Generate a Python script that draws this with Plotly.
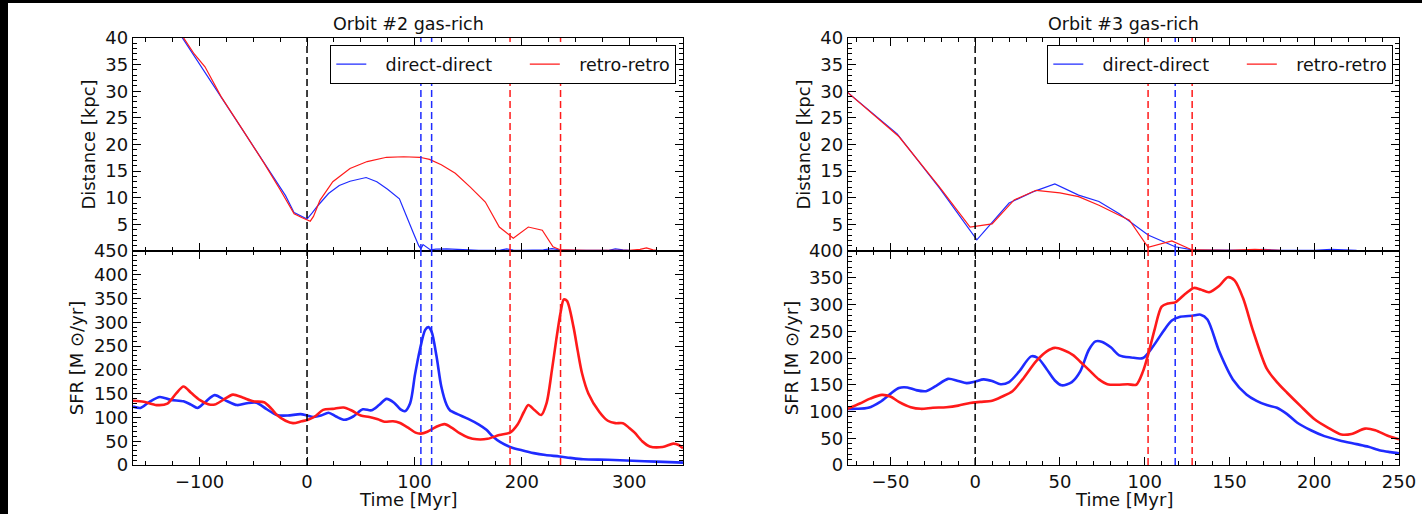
import plotly.graph_objects as go

# ---------------- data ----------------
# Orbit #2 : distance [kpc]
o2_dist_dd_t = [-162, -140, -120, -100, -80, -60, -40, -20, -12, -5, 0, 5, 10, 20, 30, 40, 55, 65, 75, 86, 92, 99, 104, 106, 108, 111, 115, 120,
                130, 140, 160, 180, 186, 192, 200, 220, 228, 236, 250, 280, 287, 294, 300]
o2_dist_dd = [54.2, 47.4, 41.2, 35.1, 28.9, 22.8, 16.6, 10.4, 7.2, 6.5, 6.0, 7.2, 8.5, 10.8, 12.3, 13.1, 13.8, 13.0, 11.6, 9.8, 7.0, 3.4, 1.0, 0.4, 1.2, 0.8, 0.2, 0.35,
              0.4, 0.3, 0.1, 0.15, 0.4, 0.15, 0.1, 0.2, 0.45, 0.2, 0.1, 0.1, 0.4, 0.2, 0.1]
o2_dist_rr_t = [-162, -140, -120, -105, -95, -80, -60, -40, -25, -12, -5, 0, 3, 6, 12, 24, 40, 56, 74, 90, 105, 114, 125, 138, 152, 166, 179, 192,
                206, 219, 229, 236, 260, 300, 310, 316, 322, 326]
o2_dist_rr = [54.4, 47.6, 41.5, 37.0, 34.6, 29.0, 22.8, 16.5, 11.5, 7.0, 6.3, 5.9, 5.6, 6.5, 9.5, 13.0, 15.5, 16.8, 17.6, 17.7, 17.6, 17.2, 16.2, 14.6,
              12.0, 9.2, 4.5, 2.4, 4.5, 3.9, 0.8, 0.2, 0.1, 0.1, 0.3, 0.6, 0.2, 0.1]

# Orbit #2 : SFR [Msun/yr]
o2_sfr_dd_t = [-162, -155, -147, -137, -127, -115, -108, -102, -95, -86, -76, -65, -56, -47, -38, -28, -18, -6, 0, 6, 13, 20, 27, 35, 43, 52, 60,
               67, 74, 81, 87, 91, 96, 100.5, 105, 110, 113, 116, 120.6, 125, 130, 133, 140, 150, 160, 167, 173, 180, 189, 200, 211, 222,
               235, 245, 257, 280, 303, 325, 350]
o2_sfr_dd = [123, 120, 132, 143, 137, 134, 127, 120, 132, 147, 136, 126, 130, 131, 118, 105, 104, 107, 104, 101, 104, 110, 102, 95, 102, 117, 115,
             126, 139, 131, 117, 113, 130, 190, 242, 284, 290, 280, 228, 165, 126, 115, 107, 97, 85, 74, 60, 48, 38, 31, 25, 21,
             18, 15, 12, 11, 9, 7, 5]
o2_sfr_rr_t = [-162, -152, -140, -130, -122, -115, -108, -100, -92, -86, -78, -69, -60, -50, -40, -33, -28, -20, -13, -5, 1, 8, 15, 24, 34, 42,
               50, 58, 66, 72, 80, 86, 95, 101, 106, 112, 120, 128, 135, 142, 150, 158, 168, 179, 189, 196, 202, 206, 212, 218, 223,
               228, 232, 236, 239, 242, 248, 252, 256, 262, 272, 280, 287, 294, 300, 305, 312, 319, 331, 341, 346, 350]
o2_sfr_rr = [135, 133, 126, 129, 150, 165, 152, 137, 128, 127, 137, 148, 142, 134, 132, 118, 105, 93, 88, 92, 95, 103, 116, 118, 121, 114,
             104, 101, 96, 91, 92, 89, 77, 68, 66, 70, 80, 86, 78, 67, 58, 54, 55, 63, 68, 85, 112, 126, 115, 105, 130,
             200, 263, 320, 348, 345, 291, 240, 193, 150, 112, 93, 88, 88, 78, 68, 50, 39, 38, 45, 42, 35]

# Orbit #3 : distance [kpc]
o3_dist_dd_t = [-76, -46, -21, 1, 20, 34, 47, 61, 73, 85, 102, 118, 128, 140, 160, 170, 180, 200, 210, 225]
o3_dist_dd = [30.0, 22.0, 11.8, 2.1, 9.0, 11.1, 12.6, 10.5, 9.3, 7.0, 3.0, 0.8, 0.2, 0.15, 0.1, 0.3, 0.1, 0.1, 0.3, 0.1]
o3_dist_rr_t = [-76, -45, -21, -3, 10, 23, 36, 50, 61, 73, 91, 102, 116, 128, 150, 165, 172, 180]
o3_dist_rr = [30.0, 21.5, 12.0, 4.5, 5.1, 9.6, 11.4, 10.9, 10.2, 8.6, 5.8, 0.7, 1.9, 0.2, 0.1, 0.3, 0.2, 0.1]

# Orbit #3 : SFR [Msun/yr]
o3_sfr_dd_t = [-76, -70, -63, -56, -50, -45, -40, -35, -29, -23, -16, -10, -5, 0, 5, 10, 15, 20, 26, 33, 37, 42, 47, 51, 57, 62, 67, 71,
               75, 80, 85, 92, 99, 105, 111, 116, 121, 128, 133, 137, 144, 152, 160, 166, 172, 178, 184, 190, 198, 206, 215,
               225, 232, 239, 245, 250]
o3_sfr_dd = [105, 105, 107, 118, 133, 144, 145, 140, 138, 148, 161, 157, 153, 156, 160, 157, 151, 155, 175, 203, 200, 180, 158, 149, 155, 175, 215, 231,
             230, 220, 205, 201, 200, 222, 250, 270, 277, 279, 281, 272, 212, 160, 132, 120, 112, 107, 95, 79, 65, 54, 46,
             39, 34, 27, 24, 22]
o3_sfr_rr_t = [-76, -68, -62, -55, -50, -45, -38, -32, -25, -17, -10, -3, 3, 10, 16, 22, 28, 36, 42, 47, 52, 58, 62, 68, 73, 78, 84, 90,
               95, 99, 102, 106, 110, 114, 118, 124, 129, 133, 138, 144, 149, 153, 158, 164, 172, 178, 184, 192, 200, 208, 216,
               222, 230, 236, 243, 250]
o3_sfr_rr = [104, 115, 124, 131, 128, 118, 108, 105, 107, 108, 111, 116, 118, 120, 128, 138, 160, 194, 212, 219, 215, 205, 193, 175, 160, 151, 150, 151,
             150, 175, 206, 255, 296, 302, 304, 320, 331, 328, 323, 335, 351, 345, 312, 250, 180, 155, 135, 110, 86, 70, 57,
             58, 68, 65, 55, 48]

# vertical markers [Myr]
o2_lines_dd = [106, 116]
o2_lines_rr = [189, 236]
o3_lines_dd = [118]
o3_lines_rr = [102, 128]

# distance-panel tick labels (the 0 is hidden under the SFR panel's top label)
dist_tickvals = [0, 5, 10, 15, 20, 25, 30, 35, 40]
dist_ticktext = ["", "5", "10", "15", "20", "25", "30", "35", "40"]

BLUE = "#1f2bff"
RED = "#ff1a1a"
FONT = "DejaVu Sans"
TXT = "#111"
W, H = 1422, 514

fig = go.Figure()

def add(x, y, xa, ya, color, width, name=None, legend=None, spline=False):
    fig.add_trace(go.Scatter(
        x=x, y=y, xaxis=xa, yaxis=ya, mode="lines",
        line=dict(color=color, width=width, shape="spline" if spline else "linear", smoothing=0.8),
        name=name or "", showlegend=legend is not None, legend=legend or "legend",
        hoverinfo="skip"))

N1 = "\u2002 direct-direct\u00a0\u00a0\u00a0\u00a0\u00a0"
N2 = "\u2002 retro-retro"
add(o2_dist_dd_t, o2_dist_dd, "x", "y", BLUE, 1.2, N1, "legend")
add(o2_dist_rr_t, o2_dist_rr, "x", "y", RED, 1.2, N2, "legend")
add(o2_sfr_dd_t, o2_sfr_dd, "x2", "y2", BLUE, 2.6, spline=True)
add(o2_sfr_rr_t, o2_sfr_rr, "x2", "y2", RED, 2.6, spline=True)
add(o3_dist_dd_t, o3_dist_dd, "x3", "y3", BLUE, 1.2, N1, "legend2")
add(o3_dist_rr_t, o3_dist_rr, "x3", "y3", RED, 1.2, N2, "legend2")
add(o3_sfr_dd_t, o3_sfr_dd, "x4", "y4", BLUE, 2.6, spline=True)
add(o3_sfr_rr_t, o3_sfr_rr, "x4", "y4", RED, 2.6, spline=True)

# geometry (paper fractions)
xl = [133 / W, 683 / W]
xr = [848 / W, 1399 / W]
ytop = [1 - 251 / H, 1 - 38 / H]
ybot = [1 - 465 / H, 1 - 251 / H]

tickfont = dict(family=FONT, size=18, color=TXT)
titlefont = dict(family=FONT, size=18, color=TXT)

def xax(domain, rng, dtick, minor, anchor, labels):
    return dict(domain=domain, range=rng, anchor=anchor, automargin=False, showline=True, linecolor="black", linewidth=1.3,
                mirror="allticks", ticks="inside", ticklen=8, tickwidth=1.3, tickcolor="black",
                dtick=dtick, tick0=0, showgrid=False, zeroline=False, showticklabels=labels,
                tickfont=tickfont,
                minor=dict(ticks="inside", ticklen=4, tickwidth=1, tickcolor="black", dtick=minor, tick0=0, showgrid=False))

def yax(domain, rng, dtick, minor, anchor, title, tv=None, tt=None):
    d = dict(domain=domain, range=rng, anchor=anchor, automargin=False, showline=True, linecolor="black", linewidth=1.3,
             mirror="allticks", ticks="inside", ticklen=8, tickwidth=1.3, tickcolor="black",
             dtick=dtick, tick0=0, showgrid=False, zeroline=False, tickfont=tickfont,
             title=dict(text=title, font=titlefont, standoff=5),
             minor=dict(ticks="inside", ticklen=3.5, tickwidth=1, tickcolor="black", dtick=minor, tick0=0, showgrid=False))
    if tv is not None:
        d["tickmode"] = "array"
        d["tickvals"] = tv
        d["ticktext"] = tt
    return d

legend_common = dict(xanchor="left", yanchor="top", orientation="h",
                     bgcolor="white", bordercolor="black", borderwidth=1.3,
                     font=dict(family=FONT, size=17.5, color=TXT))

fig.update_layout(
    width=W, height=H, margin=dict(l=0, r=0, t=0, b=0, autoexpand=False),
    paper_bgcolor="white", plot_bgcolor="white",
    font=dict(family=FONT, size=17, color=TXT),
    xaxis=xax(xl, [-162, 350], 100, 25, "y", False),
    yaxis=yax(ytop, [0, 40], 5, 1, "x", "Distance [kpc]", dist_tickvals, dist_ticktext),
    xaxis2=xax(xl, [-162, 350], 100, 25, "y2", True),
    yaxis2=yax(ybot, [0, 450], 50, 10, "x2", "SFR [M ⊙/yr]"),
    xaxis3=xax(xr, [-75, 250], 50, 10, "y3", False),
    yaxis3=yax(ytop, [0, 40], 5, 1, "x3", "Distance [kpc]", dist_tickvals, dist_ticktext),
    xaxis4=xax(xr, [-75, 250], 50, 10, "y4", True),
    yaxis4=yax(ybot, [0, 400], 50, 10, "x4", "SFR [M ⊙/yr]"),
    legend=dict(x=330 / W, y=1 - 45 / H, **legend_common),
    legend2=dict(x=1047 / W, y=1 - 45 / H, **legend_common),
    showlegend=True,
)

shapes = []
def vline(x, xa, ya, color):
    shapes.append(dict(type="line", xref=xa, yref=ya + " domain", x0=x, x1=x, y0=0, y1=1,
                       line=dict(color=color, width=1.5, dash="7px,4px"), layer="above"))

for xa, ya in [("x", "y"), ("x2", "y2"), ("x3", "y3"), ("x4", "y4")]:
    vline(0, xa, ya, "black")
for xa, ya in [("x", "y"), ("x2", "y2")]:
    for v in o2_lines_dd:
        vline(v, xa, ya, BLUE)
    for v in o2_lines_rr:
        vline(v, xa, ya, RED)
for xa, ya in [("x3", "y3"), ("x4", "y4")]:
    for v in o3_lines_dd:
        vline(v, xa, ya, BLUE)
    for v in o3_lines_rr:
        vline(v, xa, ya, RED)

# black frame strips of the original scan
shapes.append(dict(type="rect", xref="paper", yref="paper", x0=0, x1=8 / W, y0=0, y1=1,
                   fillcolor="black", line=dict(width=0), layer="above"))
shapes.append(dict(type="rect", xref="paper", yref="paper", x0=0, x1=1, y0=1 - 3 / H, y1=1,
                   fillcolor="black", line=dict(width=0), layer="above"))
fig.update_layout(shapes=shapes)

for dom, ttl in [(xl, "Orbit #2 gas-rich"), (xr, "Orbit #3 gas-rich")]:
    fig.add_annotation(text=ttl, xref="paper", yref="paper", x=(dom[0] + dom[1]) / 2, y=1 - 36 / H,
                       xanchor="center", yanchor="bottom", showarrow=False, font=dict(family=FONT, size=17.5, color=TXT))
    fig.add_annotation(text="Time [Myr]", xref="paper", yref="paper", x=(dom[0] + dom[1]) / 2, y=1 - 487 / H,
                       xanchor="center", yanchor="top", showarrow=False, font=titlefont)

fig.write_html("out.html")
